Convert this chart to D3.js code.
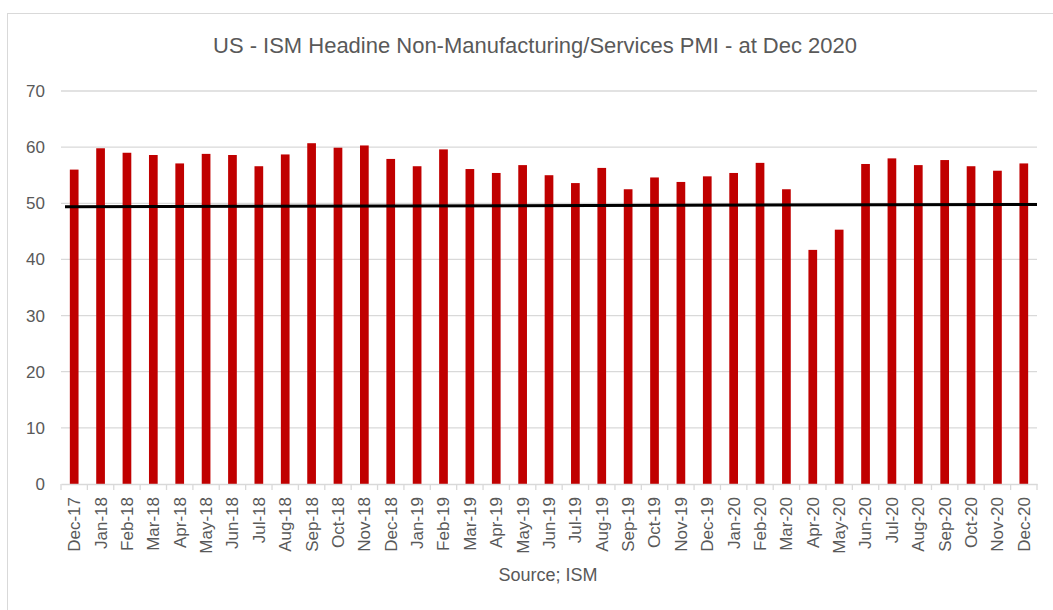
<!DOCTYPE html>
<html><head><meta charset="utf-8">
<script src="https://cdn.jsdelivr.net/npm/d3@7"></script>
<style>body{margin:0;background:#fff;} svg{display:block;font-family:"Liberation Sans",Arial,sans-serif;}</style>
</head><body><svg id="c" width="1053" height="610"></svg>
<script>
const categories = ["Dec-17","Jan-18","Feb-18","Mar-18","Apr-18","May-18","Jun-18","Jul-18","Aug-18","Sep-18","Oct-18","Nov-18","Dec-18","Jan-19","Feb-19","Mar-19","Apr-19","May-19","Jun-19","Jul-19","Aug-19","Sep-19","Oct-19","Nov-19","Dec-19","Jan-20","Feb-20","Mar-20","Apr-20","May-20","Jun-20","Jul-20","Aug-20","Sep-20","Oct-20","Nov-20","Dec-20"];
const pmiValues = [56.0,59.8,59.0,58.6,57.1,58.8,58.6,56.6,58.7,60.7,59.9,60.3,57.9,56.6,59.6,56.1,55.4,56.8,55.0,53.6,56.3,52.5,54.6,53.8,54.8,55.4,57.2,52.5,41.7,45.3,57.0,58.0,56.8,57.7,56.6,55.8,57.1];
const thresholdLine = [49.4, 49.8];
const yTicks = [0,10,20,30,40,50,60,70];
const titleText = "US - ISM Headine Non-Manufacturing/Services PMI - at Dec 2020";
const sourceText = "Source; ISM";

const svg = d3.select("#c");
const mLeft = 61, mRight = 1037, mTop = 91, mBottom = 484;
const x = d3.scaleBand().domain(categories).range([mLeft, mRight]).paddingInner(0.67).paddingOuter(0.335);
const y = d3.scaleLinear().domain([0,70]).range([mBottom, mTop]);

svg.append("rect").attr("x",7.5).attr("y",13.5).attr("width",1060).attr("height",620).attr("fill","none").attr("stroke","#d9d9d9");

svg.append("text").attr("x",535).attr("y",53).attr("text-anchor","middle").attr("font-size",22).attr("fill","#595959")
  .attr("textLength",644).attr("lengthAdjust","spacingAndGlyphs").text(titleText);

// gridlines
svg.append("g").selectAll("line").data(yTicks.filter(d=>d>0)).join("line")
  .attr("x1",mLeft).attr("x2",mRight).attr("y1",d=>y(d)).attr("y2",d=>y(d))
  .attr("stroke","#d9d9d9").attr("stroke-width",1.3);

// y labels
const yAxis = svg.append("g").attr("transform",`translate(${mLeft},0)`)
  .call(d3.axisLeft(y).tickValues(yTicks).tickSize(0).tickPadding(16));
yAxis.select(".domain").remove();
yAxis.selectAll("text").attr("font-size",17).attr("fill","#595959").attr("font-family","Liberation Sans, Arial, sans-serif");

// bars
svg.append("g").selectAll("rect").data(pmiValues).join("rect")
  .attr("x",(d,i)=>x(categories[i])).attr("width",x.bandwidth())
  .attr("y",d=>y(d)).attr("height",d=>y(0)-y(d)).attr("fill","#c00000");

// x axis
const step = x.step();
const xAxis = svg.append("g").attr("transform",`translate(0,${mBottom})`)
  .call(d3.axisBottom(x).tickSize(0).tickPadding(0));
xAxis.select(".domain").attr("stroke","#d9d9d9").attr("stroke-width",1.3);
xAxis.selectAll("text").attr("font-size",17).attr("fill","#595959").attr("font-family","Liberation Sans, Arial, sans-serif")
  .attr("transform","rotate(-90)").attr("text-anchor","end").attr("dy","0.35em").attr("dx","-13px").attr("y",0).attr("x",0);
const bounds = categories.map((c,i)=>mLeft + i*step).concat([mRight]);
xAxis.append("g").selectAll("line").data(bounds).join("line")
  .attr("x1",d=>d).attr("x2",d=>d).attr("y1",0).attr("y2",6).attr("stroke","#d9d9d9").attr("stroke-width",1.3);

// threshold line
const lx = d3.scaleLinear().domain([0, thresholdLine.length-1]).range([mLeft+4, mRight]);
svg.append("path").datum(thresholdLine)
  .attr("d", d3.line().x((d,i)=>lx(i)).y(d=>y(d)))
  .attr("stroke","#000").attr("stroke-width",3).attr("fill","none");

svg.append("text").attr("x",548).attr("y",581).attr("text-anchor","middle").attr("font-size",18).attr("fill","#595959").text(sourceText);
</script></body></html>
